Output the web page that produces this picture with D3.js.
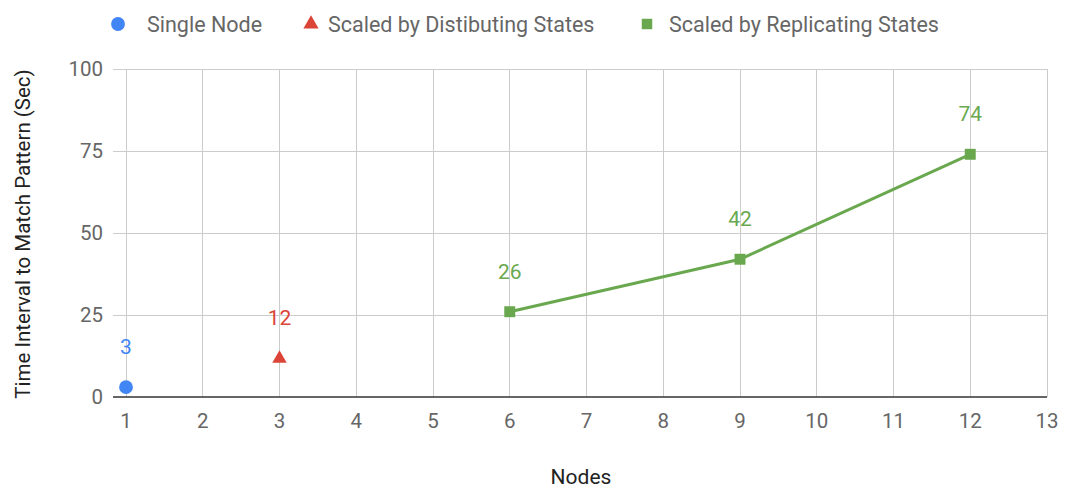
<!DOCTYPE html>
<html><head><meta charset="utf-8">
<script src="https://cdn.jsdelivr.net/npm/d3@7"></script>
<style>body{margin:0;background:#fff}svg{display:block;font-family:Roboto,sans-serif}</style>
</head><body><svg id="c" width="1066" height="490"></svg>
<script>
const xTicks = [1,2,3,4,5,6,7,8,9,10,11,12,13];
const yTicks = [0,25,50,75,100];
const singleNode = [{x:1, y:3}];
const distributing = [{x:3, y:12}];
const replicating = [{x:6, y:26},{x:9, y:42},{x:12, y:74}];
const seriesNames = ["Single Node","Scaled by Distibuting States","Scaled by Replicating States"];
const colors = ["#4285f4","#db4437","#6aa84f"];

const svg = d3.select("#c");
const x = d3.scaleLinear().domain([1,13]).range([126,1047]);
const y = d3.scaleLinear().domain([0,100]).range([397,69]);
const left = 113, right = 1047;

// grid
svg.append("g").selectAll("line").data(yTicks.filter(d=>d>0)).join("line")
  .attr("x1",left).attr("x2",right).attr("y1",d=>y(d)).attr("y2",d=>y(d))
  .attr("stroke","#cccccc").attr("stroke-width",1).attr("shape-rendering","crispEdges");
svg.append("g").selectAll("line").data(xTicks).join("line")
  .attr("x1",d=>x(d)).attr("x2",d=>x(d)).attr("y1",y(100)).attr("y2",y(0))
  .attr("stroke","#cccccc").attr("stroke-width",1).attr("shape-rendering","crispEdges");
svg.append("line").attr("x1",left).attr("x2",right).attr("y1",y(0)).attr("y2",y(0))
  .attr("stroke","#333").attr("stroke-width",1.5);

// tick labels
svg.append("g").selectAll("text").data(yTicks).join("text")
  .attr("x",103).attr("y",d=>y(d)).attr("dy","0.36em").attr("text-anchor","end")
  .attr("font-size",20.5).attr("fill","#666").text(d=>d);
svg.append("g").selectAll("text").data(xTicks).join("text")
  .attr("x",d=>x(d)).attr("y",428).attr("text-anchor","middle")
  .attr("font-size",20.5).attr("fill","#666").text(d=>d);

// axis titles
svg.append("text").attr("x",581).attr("y",484).attr("text-anchor","middle")
  .attr("font-size",21).attr("fill","#222").text("Nodes");
svg.append("text").attr("transform","translate(30,234) rotate(-90)").attr("text-anchor","middle")
  .attr("font-size",20.5).attr("fill","#222").text("Time Interval to Match Pattern (Sec)");

// line
const line = d3.line().x(d=>x(d.x)).y(d=>y(d.y));
svg.append("path").datum(replicating).attr("d",line).attr("fill","none")
  .attr("stroke",colors[2]).attr("stroke-width",3);

// markers
const circleSym = d3.symbol().type(d3.symbolCircle).size(150);
const triSym = d3.symbol().type(d3.symbolTriangle).size(90);
const sqSym = d3.symbol().type(d3.symbolSquare).size(120);
svg.append("g").selectAll("path").data(singleNode).join("path")
  .attr("d",circleSym).attr("transform",d=>`translate(${x(d.x)},${y(d.y)})`).attr("fill",colors[0]);
svg.append("g").selectAll("path").data(distributing).join("path")
  .attr("d",triSym).attr("transform",d=>`translate(${x(d.x)},${y(d.y)+1})`).attr("fill",colors[1]);
svg.append("g").selectAll("path").data(replicating).join("path")
  .attr("d",sqSym).attr("transform",d=>`translate(${x(d.x)},${y(d.y)})`).attr("fill",colors[2]);

// data labels
[[singleNode,0],[distributing,1],[replicating,2]].forEach(([data,i])=>{
  svg.append("g").selectAll("text").data(data).join("text")
    .attr("x",d=>x(d.x)).attr("y",d=>y(d.y)-33).attr("text-anchor","middle")
    .attr("font-size",21).attr("fill",colors[i]).text(d=>d.y);
});

// legend
const legX = [118,311,647], legTX = [147,328,669];
const legSyms = [d3.symbol().type(d3.symbolCircle).size(150), d3.symbol().type(d3.symbolTriangle).size(100), d3.symbol().type(d3.symbolSquare).size(110)];
seriesNames.forEach((n,i)=>{
  svg.append("path").attr("d",legSyms[i]).attr("transform",`translate(${legX[i]},24)`).attr("fill",colors[i]);
  svg.append("text").attr("x",legTX[i]).attr("y",24).attr("dy","0.36em")
    .attr("font-size",21.5).attr("fill","#666").text(n);
});
</script></body></html>
